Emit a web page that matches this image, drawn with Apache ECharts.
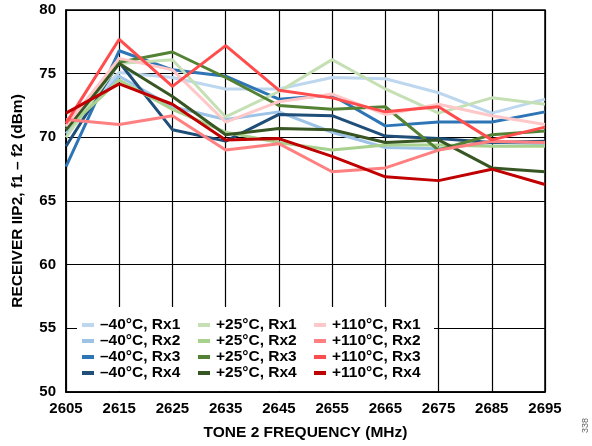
<!DOCTYPE html>
<html>
<head>
<meta charset="utf-8">
<script src="https://cdn.jsdelivr.net/npm/echarts@6/dist/echarts.min.js"></script>
<style>html,body{margin:0;padding:0;background:#fff}#c{width:592px;height:446px}</style>
</head>
<body>
<div id="c"></div>
<script>
var categories = ['2605','2615','2625','2635','2645','2655','2665','2675','2685','2695'];
var m40_rx1 = [70.8, 75.1, 74.7, 73.8, 73.8, 74.7, 74.6, 73.5, 71.9, 73.0];
var m40_rx2 = [70.3, 74.8, 72.4, 71.4, 72.0, 70.4, 69.2, 69.1, 69.6, 69.5];
var m40_rx3 = [67.7, 76.8, 75.3, 74.8, 73.0, 73.3, 70.9, 71.2, 71.2, 72.0];
var m40_rx4 = [69.3, 75.9, 70.6, 69.7, 71.8, 71.7, 70.1, 69.9, 69.6, 69.7];
var p25_rx1 = [70.0, 75.8, 76.1, 71.6, 73.6, 76.1, 73.8, 71.9, 73.1, 72.6];
var p25_rx2 = [70.6, 74.5, 72.2, 70.4, 69.6, 69.0, 69.4, 69.4, 69.3, 69.3];
var p25_rx3 = [70.9, 75.9, 76.7, 74.7, 72.5, 72.2, 72.4, 69.0, 70.2, 70.5];
var p25_rx4 = [70.6, 75.8, 73.2, 70.2, 70.7, 70.6, 69.6, 69.8, 67.6, 67.3];
var p110_rx1 = [70.9, 76.2, 75.3, 71.2, 72.8, 73.4, 71.8, 72.6, 71.7, 71.0];
var p110_rx2 = [71.4, 71.0, 71.7, 69.0, 69.5, 67.3, 67.6, 69.0, 69.7, 69.6];
var p110_rx3 = [71.1, 77.7, 74.0, 77.2, 73.7, 73.1, 72.0, 72.4, 69.8, 70.8];
var p110_rx4 = [71.9, 74.2, 72.6, 69.8, 69.9, 68.5, 66.9, 66.6, 67.5, 66.3];
var yTicks = [50, 55, 60, 65, 70, 75, 80];

var seriesDefs = [
  ['\u201340\u00b0C, Rx1', m40_rx1, '#bdd7ee'],
  ['\u201340\u00b0C, Rx2', m40_rx2, '#9dc3e6'],
  ['\u201340\u00b0C, Rx3', m40_rx3, '#2e75b6'],
  ['\u201340\u00b0C, Rx4', m40_rx4, '#1f4e79'],
  ['+25\u00b0C, Rx1', p25_rx1, '#c5e0b4'],
  ['+25\u00b0C, Rx2', p25_rx2, '#a9d18e'],
  ['+25\u00b0C, Rx3', p25_rx3, '#548235'],
  ['+25\u00b0C, Rx4', p25_rx4, '#375623'],
  ['+110\u00b0C, Rx1', p110_rx1, '#ffc7c7'],
  ['+110\u00b0C, Rx2', p110_rx2, '#ff8080'],
  ['+110\u00b0C, Rx3', p110_rx3, '#ff4d4d'],
  ['+110\u00b0C, Rx4', p110_rx4, '#c00000']
];

var font = '"Liberation Sans", Arial, sans-serif';
var series = seriesDefs.map(function (d) {
  return {
    name: d[0], type: 'line', data: d[1], symbol: 'none', smooth: false,
    lineStyle: { width: 3, color: d[2] }, itemStyle: { color: d[2] }, z: 3
  };
});

function legendCol(names, left) {
  return {
    orient: 'vertical', left: left, top: 317, padding: 0,
    itemWidth: 12, itemHeight: 4, itemGap: 0, icon: 'rect',
    data: names, selectedMode: false,
    textStyle: { fontFamily: font, fontWeight: 'bold', fontSize: 15.5, color: '#000', lineHeight: 16, padding: [0, 0, 0, 1] }
  };
}

var chart = echarts.init(document.getElementById('c'), null, { renderer: 'canvas' });
chart.setOption({
  animation: false,
  backgroundColor: '#fff',
  grid: { left: 66, right: 47, top: 10, bottom: 54, show: false },
  xAxis: {
    type: 'category', data: categories, boundaryGap: false,
    name: 'TONE 2 FREQUENCY (MHz)', nameLocation: 'middle', nameGap: 33,
    nameTextStyle: { fontFamily: font, fontWeight: 'bold', fontSize: 15.5, color: '#000' },
    axisLine: { lineStyle: { color: '#000', width: 1.5 } },
    axisTick: { show: false },
    axisLabel: { fontFamily: font, fontWeight: 'bold', fontSize: 15, color: '#000', margin: 9, interval: 0 },
    splitLine: { show: true, lineStyle: { color: '#000', width: 1.2 } }
  },
  yAxis: {
    type: 'value', min: yTicks[0], max: yTicks[yTicks.length - 1], interval: 5,
    name: 'RECEIVER IIP2, f1 \u2013 f2 (dBm)', nameLocation: 'middle', nameGap: 40,
    nameTextStyle: { fontFamily: font, fontWeight: 'bold', fontSize: 15.5, color: '#000' },
    axisLine: { show: true, lineStyle: { color: '#000', width: 1.5 } },
    axisTick: { show: false },
    axisLabel: { fontFamily: font, fontWeight: 'bold', fontSize: 15, color: '#000', margin: 10 },
    splitLine: { show: true, lineStyle: { color: '#000', width: 1.2 } }
  },
  legend: [
    legendCol(seriesDefs.slice(0, 4).map(function (d) { return d[0]; }), 82),
    legendCol(seriesDefs.slice(4, 8).map(function (d) { return d[0]; }), 198),
    legendCol(seriesDefs.slice(8, 12).map(function (d) { return d[0]; }), 314)
  ],
  graphic: [
    { type: 'rect', z: 1, silent: true, shape: { x: 77, y: 307, width: 357, height: 84 }, style: { fill: '#fff' } },
    { type: 'rect', z: 1, silent: true, shape: { x: 66, y: 10, width: 479, height: 382 }, style: { fill: 'none', stroke: '#000', lineWidth: 1.5 } },
    { type: 'text', z: 5, left: 581, top: 418, rotation: Math.PI / 2, style: { text: '338', fontFamily: font, fontSize: 9, fill: '#666' } }
  ],
  series: series
});
</script>
</body>
</html>
